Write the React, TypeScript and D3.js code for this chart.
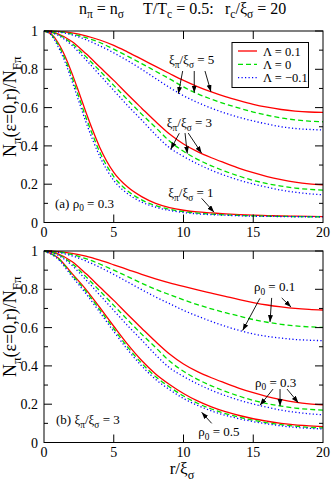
import React from 'react';
import * as d3 from 'd3';

const W = 332;
const H = 481;
const FONT = "'Liberation Serif', 'Times New Roman', Times, serif";

// r / xi_sigma sample points
const R = [0, 1, 2, 3, 4, 5, 6, 7, 8, 9, 10, 11, 12, 13, 14, 15, 16, 17, 18, 19, 20];
const R_FINE = [0, 0.5, 1, 1.5, 2, 2.5, 3, 3.5, 4, 5, 6, 7, 8, 9, 10, 11, 12, 13, 14, 15, 16, 17, 18, 19, 20];

// panel (a): rho0 = 0.3
const xi5Red = [1, 0.998, 0.99, 0.975, 0.953, 0.925, 0.89, 0.853, 0.815, 0.778, 0.742, 0.71, 0.682, 0.657, 0.636, 0.617, 0.602, 0.59, 0.582, 0.577, 0.575];
const xi5Green = [1, 0.997, 0.985, 0.965, 0.94, 0.905, 0.868, 0.83, 0.79, 0.75, 0.708, 0.672, 0.644, 0.619, 0.597, 0.577, 0.56, 0.546, 0.536, 0.529, 0.526];
const xi5Blue = [1, 0.995, 0.98, 0.955, 0.923, 0.886, 0.845, 0.8, 0.752, 0.705, 0.662, 0.627, 0.597, 0.571, 0.549, 0.53, 0.514, 0.5, 0.491, 0.486, 0.483];

const xi3Red = [1, 0.985, 0.945, 0.882, 0.812, 0.742, 0.668, 0.597, 0.527, 0.462, 0.41, 0.37, 0.338, 0.31, 0.283, 0.26, 0.24, 0.224, 0.211, 0.202, 0.197];
const xi3Green = [1, 0.982, 0.935, 0.866, 0.792, 0.716, 0.64, 0.566, 0.496, 0.425, 0.372, 0.33, 0.296, 0.267, 0.242, 0.22, 0.203, 0.19, 0.18, 0.173, 0.169];
const xi3Blue = [1, 0.978, 0.925, 0.85, 0.77, 0.69, 0.61, 0.535, 0.458, 0.39, 0.345, 0.306, 0.273, 0.245, 0.221, 0.201, 0.184, 0.169, 0.158, 0.15, 0.145];

const xi1Red = [1, 0.985, 0.94, 0.87, 0.78, 0.68, 0.577, 0.48, 0.392, 0.262, 0.185, 0.135, 0.1, 0.078, 0.064, 0.055, 0.05, 0.045, 0.041, 0.038, 0.036, 0.034, 0.033, 0.032, 0.031];
const xi1Green = [1, 0.983, 0.93, 0.855, 0.76, 0.655, 0.55, 0.455, 0.367, 0.24, 0.165, 0.118, 0.088, 0.069, 0.057, 0.049, 0.044, 0.04, 0.037, 0.035, 0.033, 0.032, 0.031, 0.03, 0.03];
const xi1Blue = [1, 0.98, 0.92, 0.84, 0.74, 0.632, 0.526, 0.43, 0.345, 0.22, 0.15, 0.107, 0.08, 0.063, 0.052, 0.045, 0.041, 0.038, 0.035, 0.033, 0.032, 0.031, 0.03, 0.03, 0.029];

// panel (b): xi_pi / xi_sigma = 3 (rho0 = 0.3 is the same set as xi3 above)
const rho01Red = [1, 0.997, 0.988, 0.973, 0.952, 0.928, 0.903, 0.878, 0.855, 0.834, 0.815, 0.797, 0.78, 0.763, 0.746, 0.731, 0.718, 0.708, 0.7, 0.695, 0.692];
const rho01Green = [1, 0.995, 0.982, 0.96, 0.932, 0.9, 0.866, 0.832, 0.8, 0.772, 0.745, 0.72, 0.698, 0.678, 0.66, 0.642, 0.628, 0.617, 0.609, 0.604, 0.601];
const rho01Blue = [1, 0.993, 0.975, 0.948, 0.915, 0.878, 0.838, 0.798, 0.76, 0.725, 0.69, 0.66, 0.632, 0.607, 0.585, 0.567, 0.554, 0.545, 0.538, 0.534, 0.532];

const rho05Red = [1, 0.965, 0.883, 0.8, 0.705, 0.607, 0.512, 0.428, 0.358, 0.303, 0.256, 0.217, 0.186, 0.161, 0.141, 0.124, 0.111, 0.1, 0.092, 0.087, 0.083];
const rho05Green = [1, 0.962, 0.876, 0.79, 0.693, 0.594, 0.498, 0.414, 0.344, 0.29, 0.243, 0.205, 0.175, 0.151, 0.132, 0.116, 0.103, 0.093, 0.085, 0.079, 0.076];
const rho05Blue = [1, 0.958, 0.868, 0.778, 0.68, 0.58, 0.484, 0.4, 0.33, 0.276, 0.23, 0.194, 0.165, 0.142, 0.124, 0.109, 0.097, 0.087, 0.079, 0.074, 0.071];

const xTicks = [0, 5, 10, 15, 20];
const xTickLabels = ['0', '5', '10', '15', '20'];
const yTicks = [0, 0.2, 0.4, 0.6, 0.8, 1];
const yTickLabels = ['0', '0.2', '0.4', '0.6', '0.8', '1'];
const yMinor = [0.1, 0.3, 0.5, 0.7, 0.9];

const legendLabels = ['Λ = 0.1', 'Λ = 0', 'Λ = −0.1'];

const STYLE: any = {
  red: { stroke: '#ff0000', dash: undefined },
  green: { stroke: '#00e000', dash: '5,3' },
  blue: { stroke: '#0000ff', dash: '1.2,2.3' },
};

type Part = [string, boolean?];

function Rich({ x, y, parts, size, anchor = 'start', transform }: any) {
  let lvl = 0;
  return (
    <text x={x} y={y} fontSize={size} textAnchor={anchor} transform={transform} fontFamily={FONT}>
      {parts.map(([s, sub]: Part, i: number) => {
        const t = sub ? 1 : 0;
        const dy = (t - lvl) * size * 0.28;
        lvl = t;
        return (
          <tspan key={i} dy={dy} fontSize={sub ? size * 0.72 : size}>
            {s}
          </tspan>
        );
      })}
    </text>
  );
}

const x = d3.scaleLinear().domain([0, 20]).range([44, 323]);

function Panel({ top, bottom, series, labels, arrows, legend }: any) {
  const y = d3.scaleLinear().domain([0, 1]).range([bottom, top]);
  const mid = (top + bottom) / 2;

  return (
    <g>
      {series.map((s: any, i: number) => {
        const line = d3
          .line<number>()
          .x((_, j) => x(s.xs[j]))
          .y((d) => y(d))
          .curve(d3.curveMonotoneX);
        return (
          <path
            key={i}
            d={line(s.ys) || ''}
            fill="none"
            stroke={STYLE[s.c].stroke}
            strokeWidth={1.3}
            strokeDasharray={STYLE[s.c].dash}
          />
        );
      })}

      <rect x={44} y={top} width={323 - 44} height={bottom - top} fill="none" stroke="#000" strokeWidth={1} />

      {/* ticks */}
      {yTicks.map((t) => (
        <g key={'y' + t}>
          <line x1={44} x2={52} y1={y(t)} y2={y(t)} stroke="#000" />
          <line x1={323} x2={315} y1={y(t)} y2={y(t)} stroke="#000" />
        </g>
      ))}
      {yMinor.map((t) => (
        <g key={'m' + t}>
          <line x1={44} x2={48} y1={y(t)} y2={y(t)} stroke="#000" />
          <line x1={323} x2={319} y1={y(t)} y2={y(t)} stroke="#000" />
        </g>
      ))}
      {xTicks.slice(1, -1).map((t) => (
        <g key={'x' + t}>
          <line x1={x(t)} x2={x(t)} y1={bottom} y2={bottom - 8} stroke="#000" />
          <line x1={x(t)} x2={x(t)} y1={top} y2={top + 8} stroke="#000" />
        </g>
      ))}

      {yTicks.map((t, i) => (
        <text key={'yl' + t} x={38} y={y(t) + 5} fontSize={14} textAnchor="end" fontFamily={FONT}>
          {yTickLabels[i]}
        </text>
      ))}
      {xTicks.map((t, i) => (
        <text key={'xl' + t} x={x(t)} y={bottom + 14} fontSize={14} textAnchor="middle" fontFamily={FONT}>
          {xTickLabels[i]}
        </text>
      ))}

      <Rich
        x={16}
        y={mid - 20}
        size={18}
        anchor="middle"
        transform={`rotate(-90, 16, ${mid - 20})`}
        parts={[['N'], ['π', true], ['(ε=0,r)/N'], ['Fπ', true]]}
      />

      {labels.map((l: any, i: number) => (
        <Rich key={'lab' + i} x={x(l.x)} y={y(l.y)} size={13} parts={l.parts} />
      ))}

      {arrows.map((a: any, i: number) => (
        <line
          key={'ar' + i}
          x1={x(a[0])}
          y1={y(a[1])}
          x2={x(a[2])}
          y2={y(a[3])}
          stroke="#000"
          strokeWidth={0.9}
          markerEnd="url(#head)"
        />
      ))}

      {legend && (
        <g>
          <rect x={232} y={42.5} width={76.5} height={45} fill="#fff" stroke="#000" />
          {['red', 'green', 'blue'].map((c, i) => (
            <g key={c}>
              <line
                x1={238}
                x2={257}
                y1={51 + i * 13.3}
                y2={51 + i * 13.3}
                stroke={STYLE[c].stroke}
                strokeWidth={1.3}
                strokeDasharray={STYLE[c].dash}
              />
              <text x={263} y={51 + i * 13.3 + 4.5} fontSize={12.5} fontFamily={FONT}>
                {legendLabels[i]}
              </text>
            </g>
          ))}
        </g>
      )}
    </g>
  );
}

const seriesA = [
  { xs: R, ys: xi5Red, c: 'red' },
  { xs: R, ys: xi5Green, c: 'green' },
  { xs: R, ys: xi5Blue, c: 'blue' },
  { xs: R, ys: xi3Red, c: 'red' },
  { xs: R, ys: xi3Green, c: 'green' },
  { xs: R, ys: xi3Blue, c: 'blue' },
  { xs: R_FINE, ys: xi1Red, c: 'red' },
  { xs: R_FINE, ys: xi1Green, c: 'green' },
  { xs: R_FINE, ys: xi1Blue, c: 'blue' },
];

const seriesB = [
  { xs: R, ys: rho01Red, c: 'red' },
  { xs: R, ys: rho01Green, c: 'green' },
  { xs: R, ys: rho01Blue, c: 'blue' },
  { xs: R, ys: xi3Red, c: 'red' },
  { xs: R, ys: xi3Green, c: 'green' },
  { xs: R, ys: xi3Blue, c: 'blue' },
  { xs: R, ys: rho05Red, c: 'red' },
  { xs: R, ys: rho05Green, c: 'green' },
  { xs: R, ys: rho05Blue, c: 'blue' },
];

const xiParts = (n: string): Part[] => [['ξ'], ['π', true], ['/ξ'], ['σ', true], [' = ' + n]];
const rhoParts = (n: string): Part[] => [['ρ'], ['0', true], [' = ' + n]];

const labelsA = [
  { x: 8.96, y: 0.828, parts: xiParts('5') },
  { x: 8.8, y: 0.499, parts: xiParts('3') },
  { x: 8.91, y: 0.133, parts: xiParts('1') },
  { x: 0.79, y: 0.078, parts: [['(a) ρ'], ['0', true], [' = 0.3']] },
];
const arrowsA = [
  [9.94, 0.791, 9.63, 0.672],
  [10.77, 0.791, 10.77, 0.678],
  [11.54, 0.791, 11.97, 0.683],
  [9.7, 0.466, 9.08, 0.382],
  [10.11, 0.467, 10.27, 0.36],
  [10.34, 0.467, 11.3, 0.362],
  [11.3, 0.126, 12.19, 0.054],
];

const labelsB = [
  { x: 15.05, y: 0.791, parts: rhoParts('0.1') },
  { x: 15.13, y: 0.292, parts: rhoParts('0.3') },
  { x: 11.06, y: 0.034, parts: rhoParts('0.5') },
  { x: 0.86, y: 0.094, parts: [['(b) ξ'], ['π', true], ['/ξ'], ['σ', true], [' = 3']] },
];
const arrowsB = [
  [15.48, 0.753, 14.24, 0.585],
  [16.32, 0.755, 16.2, 0.629],
  [17.04, 0.755, 17.71, 0.707],
  [16.42, 0.279, 15.48, 0.194],
  [16.92, 0.279, 16.92, 0.19],
  [17.42, 0.279, 18.23, 0.208],
  [12.02, 0.1, 11.3, 0.158],
];

export default function App() {
  return (
    <svg width={W} height={H} style={{ position: 'absolute', left: 0, top: 0, background: '#fff' }}>
      <defs>
        <marker id="head" markerUnits="userSpaceOnUse" markerWidth={8} markerHeight={6} refX={7} refY={2.5} orient="auto">
          <path d="M0,0 L7,2.5 L0,5 Z" fill="#000" />
        </marker>
      </defs>
      <rect width={W} height={H} fill="#fff" />

      <Rich x={79} y={14} size={16} parts={[['n'], ['π', true], [' = n'], ['σ', true]]} />
      <Rich x={143} y={14} size={16} parts={[['T/T'], ['c', true], [' = 0.5:']]} />
      <Rich x={225} y={14} size={16} parts={[['r'], ['c', true], ['/ξ'], ['σ', true], [' = 20']]} />

      <Panel top={31} bottom={222.5} series={seriesA} labels={labelsA} arrows={arrowsA} legend />
      <Panel top={251} bottom={442.5} series={seriesB} labels={labelsB} arrows={arrowsB} />

      <Rich x={182} y={474} size={17} anchor="middle" parts={[['r/ξ'], ['σ', true]]} />
    </svg>
  );
}
